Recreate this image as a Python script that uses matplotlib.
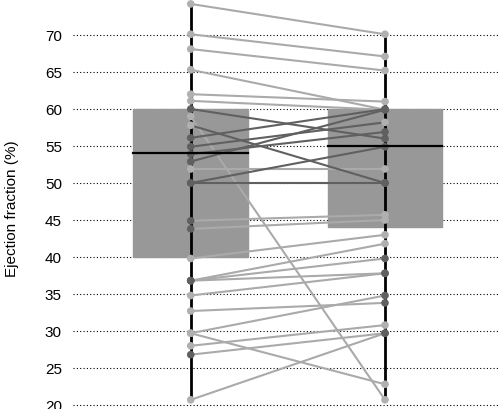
import matplotlib.pyplot as plt
import numpy as np

# each entry: one patient, value before / after
before = [74.2, 70.1, 68.1, 65.3, 62.0, 61.1, 60.0, 59.0, 57.8, 56.1,
          54.9, 53.9, 52.9, 51.9, 50.0, 50.0, 44.9, 43.8, 39.8, 36.8,
          36.8, 36.8, 34.8, 32.7, 29.7, 29.7, 28.0, 26.8, 20.7]
after = [70.1, 67.1, 65.2, 59.9, 61.0, 59.9, 56.0, 20.7, 50.0, 60.0,
         58.2, 56.9, 59.9, 51.9, 54.9, 50.0, 45.7, 45.0, 43.0, 41.8,
         39.8, 37.8, 37.8, 33.8, 22.8, 34.8, 30.8, 29.7, 29.7]
# line shade per patient: 1 = dark, 0 = light
line_dark = [0, 0, 0, 0, 0, 0, 1, 0, 1, 1,
             1, 1, 1, 0, 1, 1, 0, 0, 0, 0,
             0, 0, 0, 0, 0, 0, 0, 0, 0]
# marker shade at each end
dot_dark_before = [0, 0, 0, 0, 0, 0, 1, 0, 0, 1,
                   1, 1, 1, 0, 1, 1, 1, 1, 0, 1,
                   1, 1, 0, 0, 0, 0, 0, 1, 0]
dot_dark_after = [0, 0, 0, 1, 0, 1, 1, 0, 1, 1,
                  0, 1, 1, 0, 1, 1, 0, 0, 0, 0,
                  1, 1, 1, 1, 0, 1, 0, 1, 1]

# box summary: q1, median, q3
box_before = (40.0, 54.0, 60.0)
box_after = (44.0, 55.0, 60.0)
yticks = [20, 25, 30, 35, 40, 45, 50, 55, 60, 65, 70]

LIGHT = "#aaaaaa"
DARK = "#606060"
BOX = "#989898"

plt.rcParams["font.family"] = ["Liberation Sans Narrow", "Liberation Sans", "DejaVu Sans"]

fig = plt.figure(figsize=(5.0, 4.09), dpi=100)
ax = fig.add_axes([0.146, 0.0, 0.854, 1.0])

xs = [1, 2]
w = 0.59

# grid below everything
for t in yticks:
    ax.axhline(t, color="black", lw=0.8, ls=(0, (1, 2)), zorder=0)

for x, (q1, med, q3), vals in zip(xs, [box_before, box_after], [before, after]):
    ax.add_patch(plt.Rectangle((x - w / 2, q1), w, q3 - q1, color=BOX, zorder=1))
    ax.plot([x, x], [min(vals), max(vals)], color="black", lw=2, zorder=1.5)
    ax.plot([x - w / 2, x + w / 2], [med, med], color="black", lw=1.6, zorder=4)

for i in range(len(before)):
    ax.plot(xs, [before[i], after[i]], color=DARK if line_dark[i] else LIGHT,
            lw=1.5, zorder=2 + line_dark[i] * 0.5, solid_capstyle="butt")

for x, vals, dk in [(1, before, dot_dark_before), (2, after, dot_dark_after)]:
    cols = [DARK if d else "#b0b0b0" for d in dk]
    ax.scatter([x] * len(vals), vals, s=30, c=cols, zorder=3, linewidths=0)

ax.set_xlim(0.394, 2.592)
ax.set_ylim(19.46, 74.73)
ax.set_xticks([])
ax.set_yticks(yticks)
ax.tick_params(axis="y", length=0, pad=8, labelsize=11)
for s in ax.spines.values():
    s.set_visible(False)
fig.text(0.024, 0.49, "Ejection fraction (%)", rotation=90, fontsize=11,
         va="center", ha="center")

plt.savefig("out.png", dpi=100)
